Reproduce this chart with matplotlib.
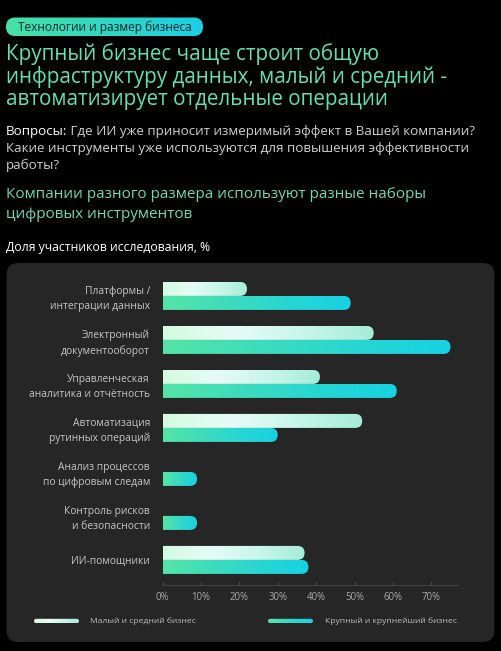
import numpy as np
import matplotlib
matplotlib.use("Agg")
import matplotlib.pyplot as plt
from matplotlib.patches import FancyBboxPatch
from matplotlib.colors import LinearSegmentedColormap

# ---------------- data ----------------
categories = [
    "Платформы /\nинтеграции данных",
    "Электронный\nдокументооборот",
    "Управленческая\nаналитика и отчётность",
    "Автоматизация\nрутинных операций",
    "Анализ процессов\nпо цифровым следам",
    "Контроль рисков\nи безопасности",
    "ИИ-помощники",
]
smb_values = [22, 55, 41, 52, 0, 0, 37]
large_values = [49, 75, 61, 30, 9, 9, 38]
series_names = ["Малый и средний бизнес", "Крупный и крупнейший бизнес"]
x_ticks = [0, 10, 20, 30, 40, 50, 60, 70]
x_tick_labels = ["0%", "10%", "20%", "30%", "40%", "50%", "60%", "70%"]

tag_text = "Технологии и размер бизнеса"
title_lines = [
    "Крупный бизнес чаще строит общую",
    "инфраструктуру данных, малый и средний -",
    "автоматизирует отдельные операции",
]
question_label = "Вопросы:"
question_lines = [
    " Где ИИ уже приносит измеримый эффект в Вашей компании?",
    "Какие инструменты уже используются для повышения эффективности",
    "работы?",
]
subtitle_lines = [
    "Компании разного размера используют разные наборы",
    "цифровых инструментов",
]
axis_caption = "Доля участников исследования, %"

# ---------------- style ----------------
FONT = "Open Sans"
plt.rcParams["font.family"] = [FONT, "DejaVu Sans"]
W, H = 501, 651
BG = "#000000"
PANEL = "#262626"
TITLE_C = "#62dfb5"
SUB_C = "#6fd8b8"

cmap_smb = LinearSegmentedColormap.from_list(
    "smb", ["#d3fbe0", "#e6fcf6", "#c8f6ea", "#a5ecd8"])
cmap_large = LinearSegmentedColormap.from_list(
    "large", ["#55e4a6", "#3fdcbc", "#28d6d2", "#16d2e3"])
cmap_tag = LinearSegmentedColormap.from_list(
    "tag", ["#48e1a6", "#2fd8c4", "#1bcfe5"])
grad = np.linspace(0, 1, 256).reshape(1, -1)

fig = plt.figure(figsize=(W / 100, H / 100), dpi=100, facecolor=BG)

# background axes in pixel coordinates
bg = fig.add_axes([0, 0, 1, 1])
bg.set_xlim(0, W)
bg.set_ylim(H, 0)
bg.axis("off")
bg.set_zorder(0)

# panel
panel = FancyBboxPatch((6.5, 263), 488, 379,
                       boxstyle="round,pad=0,rounding_size=12",
                       facecolor=PANEL, edgecolor="none", zorder=1)
bg.add_patch(panel)

# tag pill
pill = FancyBboxPatch((6, 17.5), 197, 18.5,
                      boxstyle="round,pad=0,rounding_size=9.2",
                      facecolor="none", edgecolor="none")
bg.add_patch(pill)
im = bg.imshow(grad, cmap=cmap_tag, extent=[6, 203, 36, 17.5],
               aspect="auto", interpolation="bilinear", zorder=2)
im.set_clip_path(pill)
bg.text(18, 27, tag_text, fontsize=8.6, color="#0c2422",
        ha="left", va="center", zorder=3)

# title
for i, line in enumerate(title_lines):
    bg.text(6, 54 + i * 22.8, line, fontsize=14.9, color=TITLE_C,
            ha="left", va="center")

# questions
fig.canvas.draw()
renderer = fig.canvas.get_renderer()
q_size = 9.6
t0 = bg.text(6, 131.5, question_label, fontsize=q_size, color="#ffffff",
             ha="left", va="center")
bb = t0.get_window_extent(renderer=renderer)
x_after = bb.x1
bg.text(x_after, 131.5, question_lines[0], fontsize=q_size, color="#cfcfcf",
        ha="left", va="center")
for i, line in enumerate(question_lines[1:], start=1):
    bg.text(6, 131.5 + i * 17, line, fontsize=q_size, color="#cfcfcf",
            ha="left", va="center")

# subtitle
for i, line in enumerate(subtitle_lines):
    bg.text(6, 194.5 + i * 20, line, fontsize=11.0, color=SUB_C,
            ha="left", va="center")

bg.text(6, 248, axis_caption, fontsize=8.8, color="#ffffff",
        ha="left", va="center")

# legend
leg_y = 621
for (x0, x1), cm, name, tx in [((34, 79), cmap_smb, series_names[0], 90.5),
                               ((268, 313), cmap_large, series_names[1], 325)]:
    lp = FancyBboxPatch((x0, leg_y - 2.2), x1 - x0, 4.4,
                        boxstyle="round,pad=0,rounding_size=2.2",
                        facecolor="none", edgecolor="none")
    bg.add_patch(lp)
    li = bg.imshow(grad, cmap=cm, extent=[x0, x1, leg_y + 2.2, leg_y - 2.2],
                   aspect="auto", interpolation="bilinear", zorder=3)
    li.set_clip_path(lp)
    bg.text(tx, leg_y, name, fontsize=6.1, color="#bdbdbd",
            ha="left", va="center", zorder=3)

bg.set_xlim(0, W)
bg.set_ylim(H, 0)

# ---------------- chart axes ----------------
px_per_pct = 3.84
x_left = 162.5
xmax = 77
row_px = 44
y_axis_px = 585
ytop = -0.6
ybot = 6.57
ax_h_px = (ybot - ytop) * row_px
ax = fig.add_axes([x_left / W, 1 - y_axis_px / H,
                   xmax * px_per_pct / W, ax_h_px / H])
ax.set_zorder(1)
ax.patch.set_alpha(0)

bar_h = 14 / row_px
r_x = 7 / px_per_pct
aspect = px_per_pct / row_px


def gradient_bar(ax, y0, value, cmap):
    if value <= 0:
        return
    p = FancyBboxPatch((-r_x, y0), value + r_x, bar_h,
                       boxstyle=f"round,pad=0,rounding_size={r_x}",
                       mutation_aspect=aspect,
                       facecolor="none", edgecolor="none")
    ax.add_patch(p)
    g = ax.imshow(grad, cmap=cmap, extent=[0, value, y0 + bar_h, y0],
                  aspect="auto", interpolation="bilinear", zorder=2)
    g.set_clip_path(p)


ypos = np.arange(len(categories))
for yi, v_s, v_l in zip(ypos, smb_values, large_values):
    gradient_bar(ax, yi - bar_h, v_s, cmap_smb)
    gradient_bar(ax, yi, v_l, cmap_large)

ax.set_xlim(0, xmax)
ax.set_ylim(ybot, ytop)

for s in ["top", "right", "left"]:
    ax.spines[s].set_visible(False)
ax.spines["bottom"].set_color("#4a4a4a")
ax.spines["bottom"].set_linewidth(0.6)

ax.set_xticks(x_ticks)
ax.set_xticklabels(x_tick_labels)
ax.tick_params(axis="x", colors="#5a5a5a", length=2, width=0.6,
               direction="in", pad=5, labelsize=6.9, labelcolor="#a8a8a8")
ax.set_yticks(ypos)
ax.set_yticklabels(categories, linespacing=1.4)
ax.tick_params(axis="y", length=0, pad=9, labelsize=7.4,
               labelcolor="#c4c4c4")

fig.savefig("out.png", dpi=100, facecolor=BG)
